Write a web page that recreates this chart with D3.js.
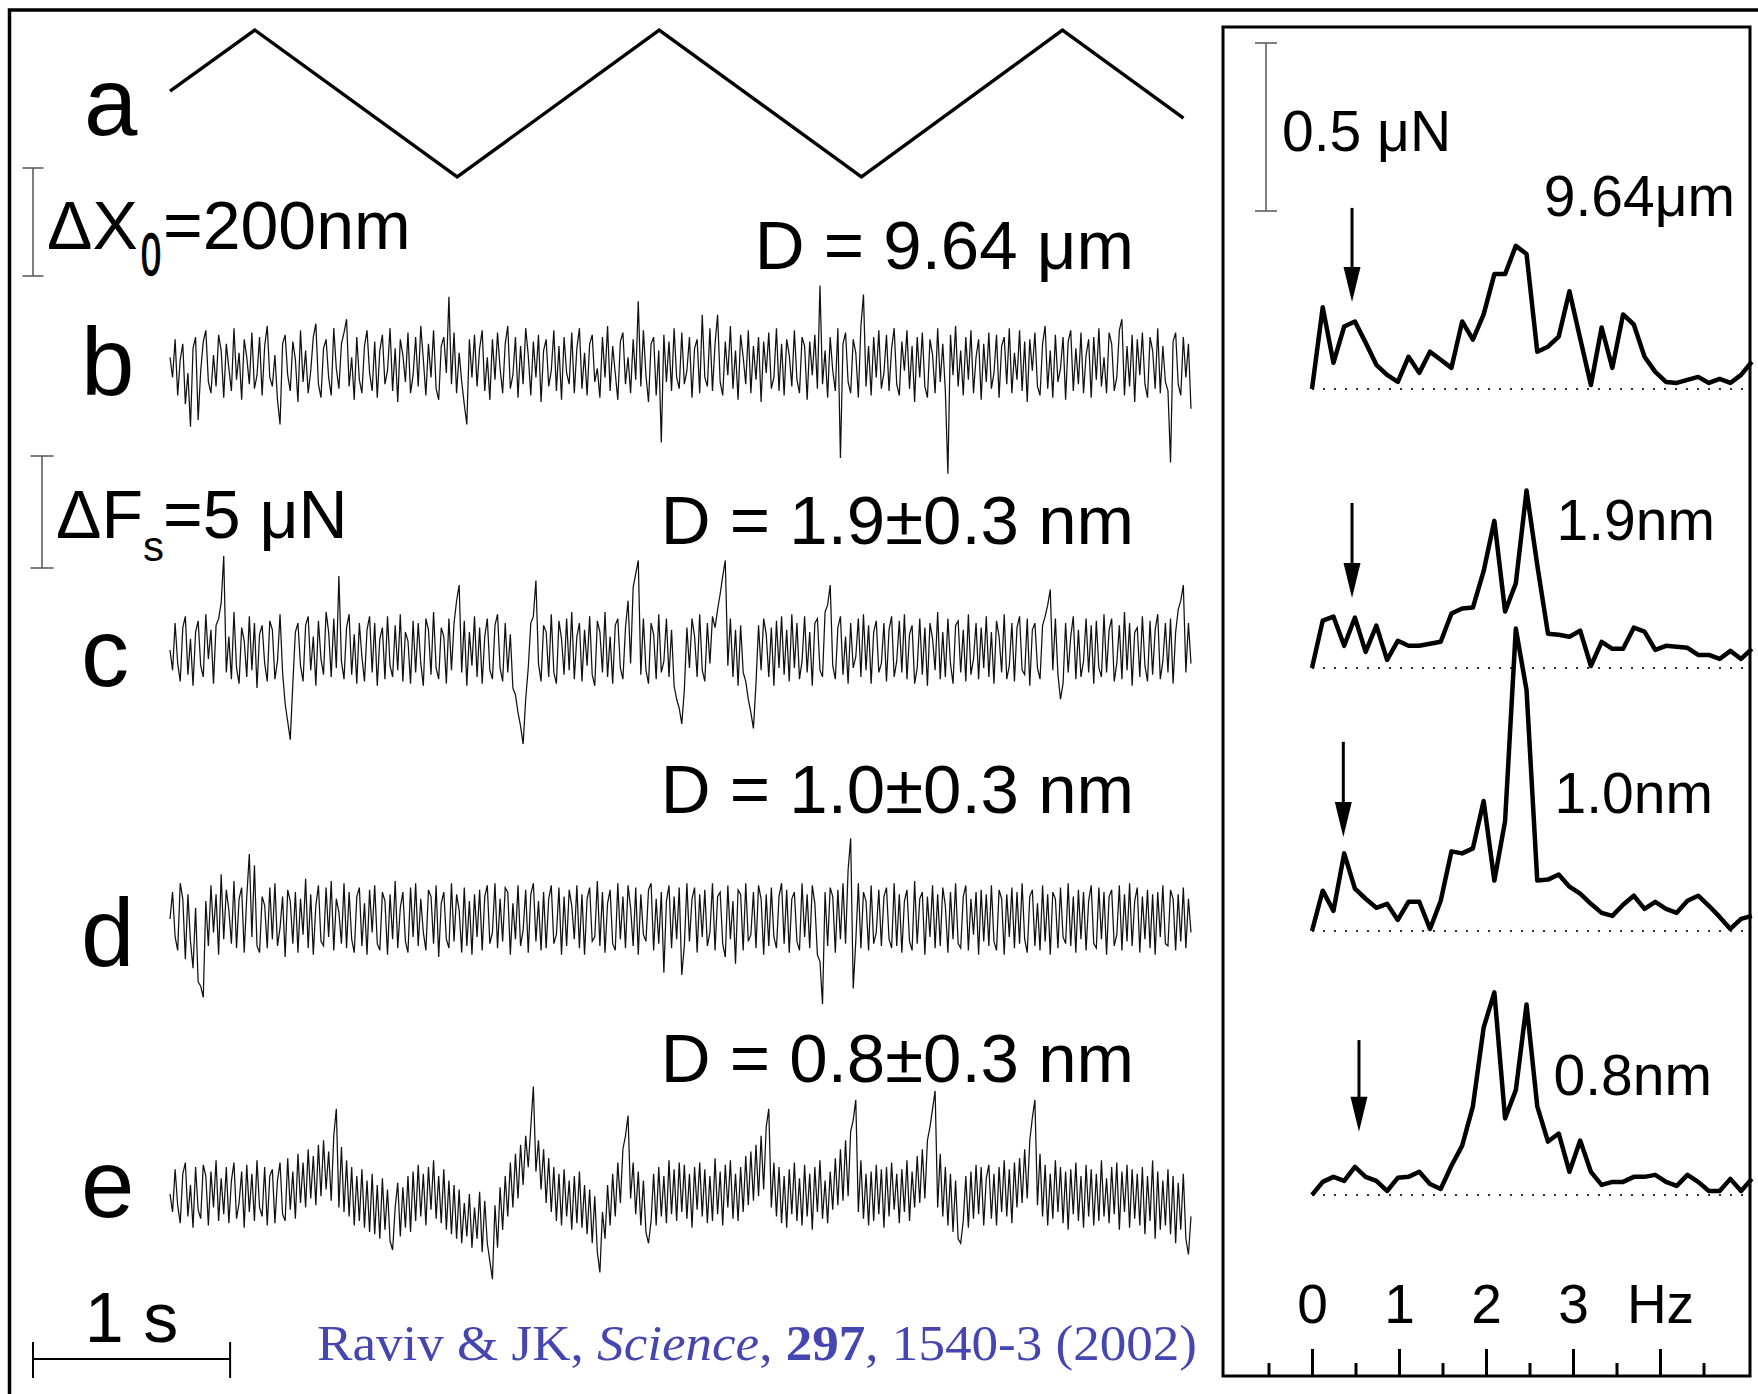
<!DOCTYPE html>
<html>
<head>
<meta charset="utf-8">
<title>Shear force traces and spectra</title>
<script src="https://d3js.org/d3.v7.min.js"></script>
<style>
  body { margin: 0; background: #fff; }
  svg { display: block; background: #fff; }
  .lab { font-family: "Liberation Sans", Arial, sans-serif; fill: #000; }
  .trace { fill: none; stroke: #111; stroke-width: 1.25; }
  .spec { fill: none; stroke: #000; stroke-width: 4.5; stroke-linejoin: round; }
  .bar { stroke: #555; stroke-width: 1.5; }
  .cite { font-family: "Liberation Serif", "Times New Roman", serif; fill: #4646b0; }
</style>
</head>
<body>
<script>
var width = 1758, height = 1394;

// a: lateral drive (triangle), time in s, displacement in nm
var triTime = [0, 0.43, 1.457, 2.482, 3.508, 4.528, 5.142];
var triNm = [23, 136, -136, 136, -136, 136, -27];

// b-e: shear force traces, units of 0.1 uN (positive = up)
var traceB = [
  3,-6,11,-14,2,9,-18,-4,-28,7,12,-25,-3,10,15,-8,-13,4,-10,13,6,-15,9,-2,-12,16,-7,5,-16,11,3,-9,14,-11,-5,12,-14,8,17,-6,
  -10,4,-16,-27,9,13,-5,-12,10,2,-17,15,-8,6,-13,-3,12,18,-9,-15,7,11,-6,-14,16,-2,-11,9,14,20,-10,3,-16,12,-7,-13,8,15,-4,-12,
  10,-15,6,13,-9,-3,16,-12,7,-17,11,4,-8,14,-13,-5,12,-10,17,2,-14,9,-6,15,-11,-16,8,12,-4,30,-9,14,-13,5,-8,-18,-27,11,-6,13,
  -10,7,15,-12,3,-16,11,-7,14,-2,-13,9,17,-11,-5,12,-15,8,-9,16,4,-14,10,-6,13,-17,6,11,-10,-3,15,-12,8,-16,12,-4,-9,14,-13,7,
  16,-11,5,-14,9,13,-8,-2,-15,12,-6,17,-12,8,-4,-16,10,14,-9,3,-13,11,-7,28,-10,15,-5,-17,9,12,-14,6,-35,13,-8,10,-12,16,-6,-11,
  14,-9,-3,12,-15,7,11,-13,22,-6,-10,16,-12,9,22,-8,-14,10,-5,17,-11,6,-16,13,3,-9,15,-13,8,-7,12,-17,10,-4,14,-11,-6,16,-12,9,
  -14,11,4,-10,15,-7,-13,12,8,-16,10,-5,13,-11,35,-9,6,-15,12,-3,-12,16,-42,9,14,-8,-13,11,5,-15,17,31,-10,8,-14,12,-6,15,-11,-4,
  13,-12,7,16,-9,-14,10,-3,15,-11,8,-17,12,-6,14,-10,-15,11,4,-13,16,-8,9,-12,-49,13,-5,17,-10,6,-14,12,-7,15,-13,3,11,-16,9,-8,
  14,-11,-4,13,-15,8,12,-9,16,-13,5,-7,15,-12,10,-17,11,-3,14,-10,-14,9,17,-11,6,-15,13,-8,-2,12,-16,10,15,-12,7,-9,14,-13,4,11,
  -15,12,-7,16,-10,3,-13,14,9,-12,-6,15,20,-14,8,-10,13,-17,11,-5,14,-9,-15,12,6,-11,16,-13,8,-8,-12,-44,10,14,-9,-14,12,-6,9,-20
];
var traceC = [
  0,-9,12,-6,-14,10,15,-11,5,-16,8,13,-7,-12,16,-4,9,-15,11,14,21,42,-10,6,-13,17,-8,-15,10,4,-12,15,-9,12,-17,7,11,-6,-14,13,
  9,-13,-5,16,-10,-24,-32,-40,-15,8,12,-7,-14,11,15,-9,6,-16,13,-4,-11,17,8,-12,14,-8,33,-5,-13,10,16,-11,7,-15,12,-3,-14,9,15,-10,
  12,-16,5,10,-13,15,-7,-12,11,-9,16,-14,8,4,-15,13,-10,12,-6,-16,14,9,-11,17,-8,-13,10,6,-15,14,-9,12,22,29,-10,13,-16,8,-7,15,
  -12,10,-15,6,14,-9,-13,11,16,-8,-14,12,-10,7,-17,-20,-28,-34,-42,-22,-8,12,15,31,-6,-14,11,8,-12,16,-10,-15,13,5,-11,14,-9,17,-13,6,
  12,-14,9,-7,15,-11,-16,13,8,-10,17,-12,6,-15,11,14,-8,-13,10,22,-6,28,34,40,-11,14,-9,-15,12,7,-13,16,-10,-5,14,-12,9,-16,-22,-26,
  -33,-18,10,-8,14,6,-12,16,-9,-14,12,-6,15,10,18,25,33,40,-7,14,-12,9,-16,11,-10,-14,-22,-28,-35,-15,11,-9,14,7,-12,10,-16,13,-8,15,
  -11,9,-14,16,-8,12,-13,-5,15,-10,8,-16,12,14,-9,-12,17,20,29,-7,-13,10,15,-11,6,-15,12,-8,-3,14,-12,16,-9,11,-15,8,13,-10,-6,12,
  -14,9,15,-12,-5,13,-10,16,-13,7,11,-15,-8,14,-11,10,-16,12,5,-9,17,-13,8,-12,14,-6,-15,11,13,-10,9,-14,16,-11,-4,12,-13,10,-8,15,
  -12,8,-15,13,6,-10,16,-13,-7,12,-14,10,15,-9,-11,14,-16,9,12,-8,-13,11,15,20,27,-9,14,-11,-22,-15,12,-10,6,15,-13,9,-12,-5,14,-10,
  11,-15,13,-8,-12,16,-10,9,14,-14,-6,11,-13,17,-9,12,-16,8,10,-12,15,-7,-14,13,-11,9,16,-13,-5,12,-10,14,-15,8,18,22,29,-10,12,-6
];
var traceD = [
  0,12,-8,-14,16,9,-18,11,-10,-22,5,-28,-30,-35,8,-12,15,-6,11,-16,20,-9,13,4,-11,17,-13,9,14,-15,10,29,-8,24,-12,-15,10,6,-13,14,
  -9,16,-12,-4,10,-17,13,8,-11,12,-15,9,-7,18,-13,11,-16,6,15,-10,-12,14,-8,17,-14,9,3,-11,16,-13,12,-9,-15,10,14,-12,7,-16,13,-6,
  15,-11,-14,12,8,-16,11,-9,17,-13,5,12,-10,-15,14,-8,16,-12,9,-6,-14,13,10,-11,15,-17,7,12,-9,-13,16,-10,11,4,-15,14,-12,8,-16,11,
  -8,13,-14,10,15,-11,-6,16,-13,9,-10,14,12,-16,7,-9,15,-12,-5,13,-15,11,16,-10,8,-14,12,-13,9,15,-11,-7,14,-16,10,-12,13,6,-9,15,
  -13,11,-16,9,14,-10,-8,17,-12,12,-15,7,13,-11,-14,16,-9,10,-13,15,5,-12,14,-16,11,-7,-10,13,16,-14,9,-11,12,-24,8,15,-13,10,-9,14,
  -25,-12,16,-10,9,14,-15,11,-8,13,-12,-6,16,-14,10,12,-11,-17,15,-9,8,-20,13,11,-14,16,-10,-7,12,-13,15,9,-16,11,-12,14,-8,-13,10,16,
  -11,13,-15,9,12,-10,-14,16,-8,11,-13,15,7,-16,-19,-38,12,-12,14,10,-15,13,-9,16,-11,22,36,-31,-10,16,-13,12,8,-14,15,-11,-6,13,-12,10,
  14,-9,-13,16,-12,11,-15,8,13,-10,-14,17,-11,9,12,-16,10,-8,15,-13,11,-12,14,6,-15,12,-9,16,-11,-13,10,15,-14,9,-7,12,-16,13,-10,11,
  -12,15,-10,-14,13,9,-16,11,-8,14,-13,12,-11,16,-9,-15,10,13,-12,7,-14,15,-10,11,-16,12,9,-13,14,-8,-11,16,-12,10,-15,13,-9,12,-14,8,
  15,-11,-13,14,-9,12,-16,10,13,-12,-7,15,-14,11,-10,16,-12,8,14,-15,10,-9,13,-13,11,-16,12,-8,15,-11,-12,13,9,-14,11,-10,14,-13,9,-6
];
var traceE = [
  0,-8,11,-5,-13,9,14,-10,4,-15,12,-7,-11,13,8,-14,10,-6,15,-12,7,-9,12,-13,6,14,-11,-4,10,-15,13,-8,9,-12,15,-6,-10,12,-14,8,
  11,-13,6,14,-9,-12,16,-7,10,-11,18,-4,14,-6,20,-2,17,-5,22,-1,24,2,19,-3,26,38,-6,21,-8,15,-10,12,-14,8,-12,11,-15,6,-17,9,
  -18,4,-20,7,-16,2,-21,-25,-6,5,-19,3,-15,8,-17,10,-12,13,-10,9,-14,12,-7,15,-11,8,-13,11,-16,6,-18,4,-20,2,-22,-4,-19,0,-24,-6,
  -20,1,-26,-3,-22,-30,-38,-5,-24,3,-16,8,-10,14,-6,18,-2,22,4,26,12,30,48,10,24,2,20,-4,16,-8,12,-12,9,-14,11,-10,6,-16,8,-13,
  10,-15,4,-18,2,-22,-1,-26,-35,-8,-20,4,-14,9,-10,14,-4,20,26,35,-2,14,-9,10,-14,6,-17,-22,-12,9,-14,12,-10,8,-13,15,-9,11,-12,14,
  -8,13,-11,9,-15,12,-7,14,-10,11,-13,8,-12,16,-9,10,-14,13,-6,15,-11,9,-12,12,-8,17,-5,19,-3,22,-1,26,2,30,38,-6,14,-10,12,-13,
  8,-15,11,-9,14,-12,7,-14,13,-10,9,-16,12,-8,15,-11,6,-13,10,-7,16,-5,20,-3,24,-1,28,33,42,-8,15,-11,9,-14,10,-12,13,-9,11,-15,
  12,-10,14,-7,9,-13,11,-8,15,-12,10,-6,17,-4,20,-2,24,30,38,46,-6,18,-10,12,-14,9,-17,6,-20,-22,-12,8,-15,10,-11,13,-9,12,-14,7,
  13,-11,9,-14,12,-8,15,-10,11,-13,14,-6,16,-4,20,-2,24,34,42,-5,18,-10,13,-14,9,-11,15,-8,12,-13,10,-16,11,-9,14,-12,8,-15,13,-10,
  11,-14,9,-12,15,-10,7,-13,12,-9,14,-16,10,-8,13,-15,11,-11,9,-14,12,-18,8,-12,15,-20,10,-16,6,-14,11,-18,8,-22,5,-16,9,-20,-27,-10
];

var traceLetters = ["b", "c", "d", "e"];
var gapLabels = ["D = 9.64 \u03bcm", "D = 1.9\u00b10.3 nm", "D = 1.0\u00b10.3 nm", "D = 0.8\u00b10.3 nm"];
var spectrumLabels = ["9.64\u03bcm", "1.9nm", "1.0nm", "0.8nm"];

// amplitude spectra, nN, one point every freqStep Hz starting at 0 Hz
var freqStep = 0.1233;
var specB = [0,243,78,186,201,138,72,42,21,96,48,111,87,63,201,147,222,342,342,426,402,111,126,156,291,150,12,183,63,222,192,96,51,21,18,27,36,18,30,18,42,81];
var specC = [0,141,153,66,150,48,126,24,81,66,66,72,78,162,177,180,288,438,168,252,528,306,102,99,93,111,6,78,57,57,120,108,54,66,63,60,39,39,27,51,27,57];
var specD = [0,120,60,231,126,96,69,81,33,87,87,6,90,237,231,246,387,150,327,900,717,150,153,168,132,111,81,54,45,78,105,66,87,66,54,90,105,75,42,6,36,45];
var specE = [0,39,54,42,84,54,42,12,51,54,69,33,18,87,147,264,498,603,228,312,567,264,159,183,69,162,69,30,39,39,54,54,60,39,27,60,39,12,12,48,12,48];

// arrows marking the drive frequency
var arrowHz = [0.46, 0.46, 0.36, 0.54];
var arrowTop = [539, 491, 563, 461];
var arrowTip = [259, 208, 280, 188];

var hzMajor = [0, 1, 2, 3, 4];
var hzMinor = [-0.5, 0.5, 1.5, 2.5, 3.5, 4.5];

var traces = [traceB, traceC, traceD, traceE];
var spectra = [specB, specC, specD, specE];

// layout
var traceMid = [364, 650, 919, 1194];
var letterBase = [395, 686, 966, 1217];
var gapBase = [269, 544, 813, 1082];
var specBase = [389, 668, 931, 1195];
var specLabelBase = [216, 540, 813, 1095];
var specLabelEnd = [1735, 1715, 1713, 1712];
var font = '"Liberation Sans", Arial, sans-serif';

var svg = d3.select("body").append("svg")
  .attr("width", width).attr("height", height);

// scales
var xT = d3.scaleLinear().domain([0, 5.18]).range([170, 1191]);
var yNm = d3.scaleLinear().domain([0, 200]).range([0, -108]);
var yF = d3.scaleLinear().domain([0, 5]).range([0, -112]);       // uN
var xHz = d3.scaleLinear().domain([0, 1]).range([1312, 1399]);
var yAmp = d3.scaleLinear().domain([0, 500]).range([0, -168]);   // nN

// frames
svg.append("path").attr("d", "M9.5," + height + "V10H" + width)
  .attr("fill", "none").attr("stroke", "#000").attr("stroke-width", 3.5);
svg.append("rect").attr("x", 1223).attr("y", 27).attr("width", 527).attr("height", 1349)
  .attr("fill", "none").attr("stroke", "#000").attr("stroke-width", 3);

// a: triangle drive
var gA = svg.append("g").attr("transform", "translate(0,103.5)");
gA.append("path")
  .datum(triNm)
  .attr("fill", "none").attr("stroke", "#000").attr("stroke-width", 3.4)
  .attr("d", d3.line().x(function(d, i) { return xT(triTime[i]); }).y(function(d) { return yNm(d); }));
svg.append("text").attr("class", "lab").attr("x", 84).attr("y", 135)
  .attr("font-size", 96).text("a");

// vertical scale bar with end caps
function vbar(x, y0, len, cap) {
  var g = svg.append("g").attr("class", "bar");
  g.append("line").attr("x1", x).attr("x2", x).attr("y1", y0).attr("y2", y0 + len);
  g.append("line").attr("x1", x - cap).attr("x2", x + cap).attr("y1", y0).attr("y2", y0);
  g.append("line").attr("x1", x - cap).attr("x2", x + cap).attr("y1", y0 + len).attr("y2", y0 + len);
}
vbar(33, 276, yNm(200), 10.5);
svg.append("text").attr("class", "lab").attr("x", 47).attr("y", 249).attr("font-size", 68).text("\u0394X");
svg.append("text").attr("class", "lab").attr("font-size", 60)
  .attr("stroke", "#000").attr("stroke-width", 1.6)
  .attr("transform", "translate(141,275) scale(0.6,1)").text("0");
svg.append("text").attr("class", "lab").attr("x", 163).attr("y", 249).attr("font-size", 68).text("=200nm");

// force scale bar
vbar(42, 568, yF(5), 11.5);
svg.append("text").attr("class", "lab").attr("x", 56).attr("y", 538).attr("font-size", 68).text("\u0394F");
svg.append("text").attr("class", "lab").attr("x", 143).attr("y", 561).attr("font-size", 42).text("s");
svg.append("text").attr("class", "lab").attr("x", 163).attr("y", 538).attr("font-size", 68).text("=5 \u03bcN");

// b-e traces
traces.forEach(function(tr, k) {
  var n = tr.length;
  var g = svg.append("g").attr("transform", "translate(0," + traceMid[k] + ")");
  g.append("path").datum(tr).attr("class", "trace")
    .attr("d", d3.line()
      .x(function(d, i) { return xT(i * 5.18 / (n - 1)); })
      .y(function(d) { return yF(d / 10); }));
  svg.append("text").attr("class", "lab").attr("x", 81).attr("y", letterBase[k])
    .attr("font-size", 96).text(traceLetters[k]);
  svg.append("text").attr("class", "lab").attr("x", 1134).attr("y", gapBase[k])
    .attr("text-anchor", "end").attr("font-size", 69).text(gapLabels[k]);
});

// 1 s bar
var sLen = xT(1) - xT(0);
var gs = svg.append("g").attr("stroke", "#000").attr("stroke-width", 2);
gs.append("line").attr("x1", 33).attr("x2", 33 + sLen).attr("y1", 1359).attr("y2", 1359);
gs.append("line").attr("x1", 33).attr("x2", 33).attr("y1", 1342).attr("y2", 1378);
gs.append("line").attr("x1", 33 + sLen).attr("x2", 33 + sLen).attr("y1", 1342).attr("y2", 1378);
svg.append("text").attr("class", "lab").attr("x", 33 + sLen / 2).attr("y", 1342)
  .attr("text-anchor", "middle").attr("font-size", 70).text("1 s");

// citation
var cite = svg.append("text").attr("class", "cite").attr("x", 317).attr("y", 1360)
  .attr("font-size", 50).attr("textLength", 880).attr("lengthAdjust", "spacingAndGlyphs");
cite.append("tspan").text("Raviv & JK, ");
cite.append("tspan").attr("font-style", "italic").text("Science");
cite.append("tspan").text(", ");
cite.append("tspan").attr("font-weight", "bold").text("297");
cite.append("tspan").text(", 1540-3 (2002)");

// spectra
vbar(1266, 211, yAmp(500), 11);
svg.append("text").attr("class", "lab").attr("x", 1282).attr("y", 151).attr("font-size", 57).text("0.5 \u03bcN");

spectra.forEach(function(sp, k) {
  var g = svg.append("g").attr("transform", "translate(0," + specBase[k] + ")");
  g.append("line").attr("x1", xHz(0)).attr("x2", 1750).attr("y1", 0).attr("y2", 0)
    .attr("stroke", "#333").attr("stroke-width", 2).attr("stroke-dasharray", "2 9");
  g.append("path").datum(sp).attr("class", "spec")
    .attr("d", d3.line()
      .x(function(d, i) { return xHz(i * freqStep); })
      .y(function(d) { return yAmp(d); }));
  var ax = xHz(arrowHz[k]), tip = yAmp(arrowTip[k]);
  g.append("line").attr("x1", ax).attr("x2", ax).attr("y1", yAmp(arrowTop[k])).attr("y2", tip - 30)
    .attr("stroke", "#000").attr("stroke-width", 3);
  g.append("path").attr("d", "M" + (ax - 8.5) + "," + (tip - 35) + "L" + (ax + 8.5) + "," + (tip - 35) + "L" + ax + "," + tip + "Z")
    .attr("fill", "#000");
  svg.append("text").attr("class", "lab").attr("x", specLabelEnd[k]).attr("y", specLabelBase[k])
    .attr("text-anchor", "end").attr("font-size", 57).text(spectrumLabels[k]);
});

// frequency axis, ticks pointing up from the panel floor
var axMajor = d3.axisTop(xHz).tickValues(hzMajor).tickSize(27).tickPadding(26)
  .tickFormat(function(d) { return d === 4 ? "Hz" : d; });
var gMaj = svg.append("g").attr("transform", "translate(0,1376)").call(axMajor);
gMaj.attr("font-size", 55).attr("font-family", font);
gMaj.select(".domain").remove();
gMaj.selectAll("line").attr("stroke", "#000").attr("stroke-width", 3);
gMaj.selectAll("text").attr("fill", "#000");

var axMinor = d3.axisTop(xHz).tickValues(hzMinor).tickSize(13).tickFormat("");
var gMin = svg.append("g").attr("transform", "translate(0,1376)").call(axMinor);
gMin.select(".domain").remove();
gMin.selectAll("line").attr("stroke", "#000").attr("stroke-width", 3);
</script>
</body>
</html>
